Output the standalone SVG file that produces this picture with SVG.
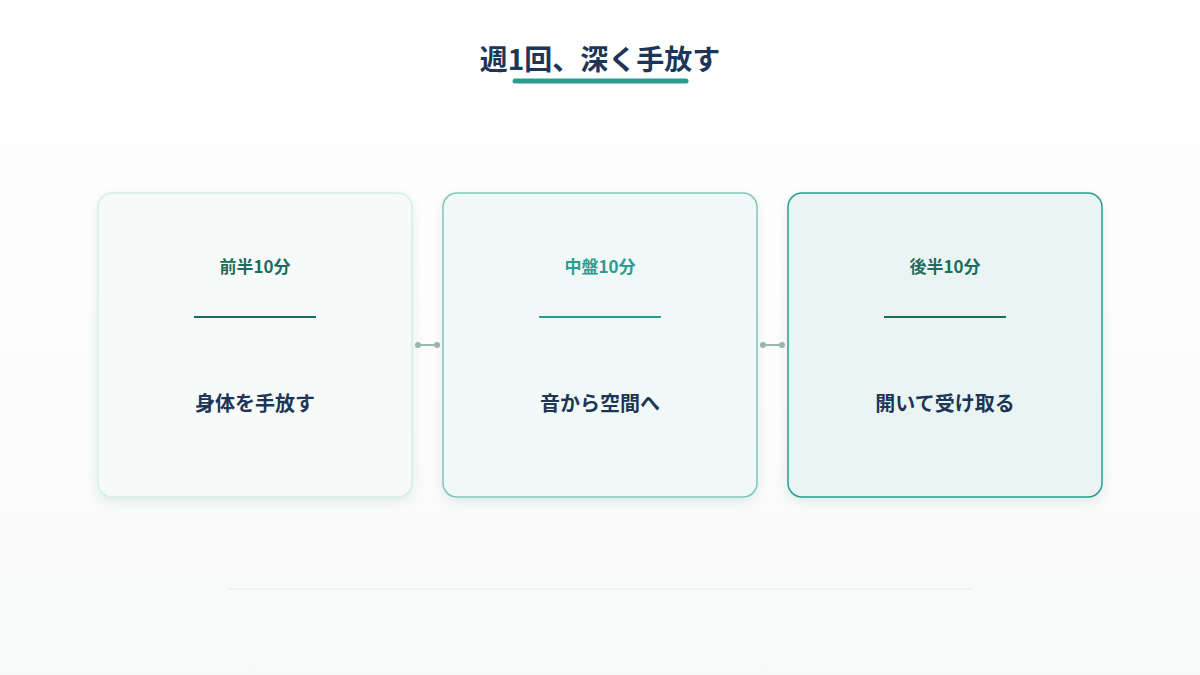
<svg xmlns="http://www.w3.org/2000/svg" width="1200" height="675" viewBox="0 0 1200 675">
<defs>
<linearGradient id="bg" x1="0" y1="0" x2="0" y2="1"><stop offset="0" stop-color="#ffffff"/><stop offset="1" stop-color="#f8faf9"/></linearGradient>
<filter id="sh" x="-10%" y="-10%" width="120%" height="125%"><feDropShadow dx="0" dy="4" stdDeviation="5" flood-color="#1f4d44" flood-opacity="0.10"/></filter>
<style>
text{font-family:"Noto Sans CJK JP","Noto Sans",sans-serif;font-weight:700;text-anchor:middle}
.t{font-size:17px}
.b{font-size:20px;fill:#1d3557}
</style>
</defs>
<rect width="1200" height="675" fill="url(#bg)"/>
<g id="title">
<text x="600" y="70" style="font-size:28px;fill:#1d3557">週1回、深く手放す</text>
<line x1="515" y1="81" x2="686" y2="81" stroke="#2a9d8f" stroke-width="5" stroke-linecap="round"/>
</g>
<g id="connectors" stroke="#9ab8b0" stroke-width="2" fill="#9ab8b0">
<line x1="418" y1="345" x2="437" y2="345"/><circle cx="418" cy="345" r="3" stroke="none"/><circle cx="437" cy="345" r="3" stroke="none"/>
<line x1="763" y1="345" x2="782" y2="345"/><circle cx="763" cy="345" r="3" stroke="none"/><circle cx="782" cy="345" r="3" stroke="none"/>
</g>
<g id="n1">
<rect x="98" y="193" width="314" height="304" rx="14" fill="#f6fbfa" stroke="#d3eee8" stroke-width="1.5" filter="url(#sh)"/>
<text class="t" x="255" y="273" fill="#1f6b60">前半10分</text>
<line x1="194" y1="317" x2="316" y2="317" stroke="#1f6b60" stroke-width="2"/>
<text class="b" x="255" y="411">身体を手放す</text>
</g>
<g id="n2">
<rect x="443" y="193" width="314" height="304" rx="14" fill="#f1f9f8" stroke="#7ec7ba" stroke-width="1.5" filter="url(#sh)"/>
<text class="t" x="600" y="273" fill="#2a9d8f">中盤10分</text>
<line x1="539" y1="317" x2="661" y2="317" stroke="#2a9d8f" stroke-width="2"/>
<text class="b" x="600" y="411">音から空間へ</text>
</g>
<g id="n3">
<rect x="788" y="193" width="314" height="304" rx="14" fill="#eaf5f3" stroke="#2a9d8f" stroke-width="1.5" filter="url(#sh)"/>
<text class="t" x="945" y="273" fill="#1f6b60">後半10分</text>
<line x1="884" y1="317" x2="1006" y2="317" stroke="#1f6b60" stroke-width="2"/>
<text class="b" x="945" y="411">開いて受け取る</text>
</g>
<line x1="228" y1="589" x2="972" y2="589" stroke="#e6ecea" stroke-width="1"/>
</svg>
